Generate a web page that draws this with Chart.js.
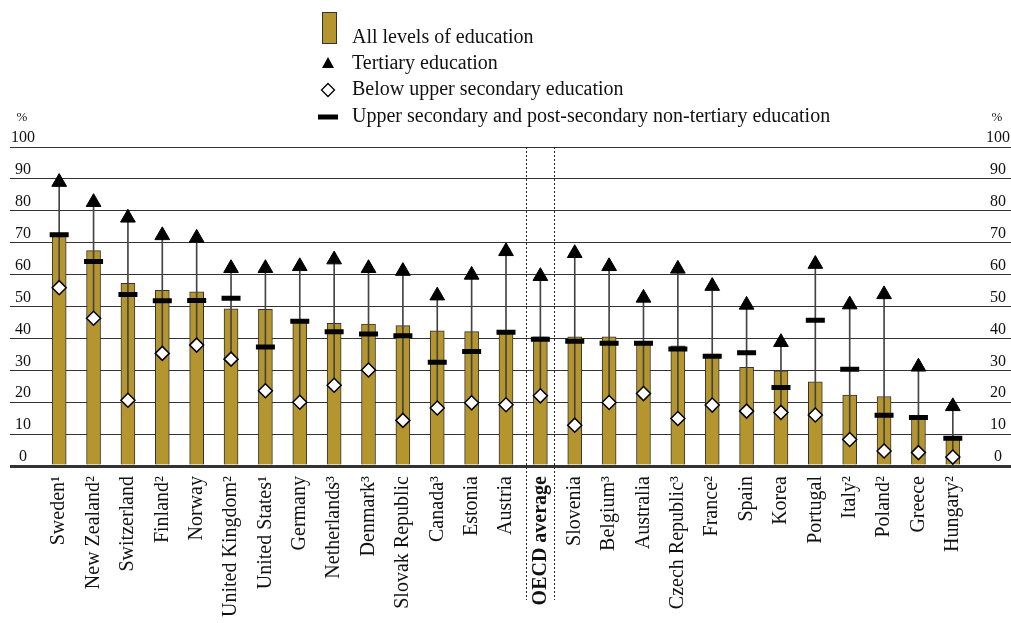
<!DOCTYPE html>
<html>
<head>
<meta charset="utf-8">
<script src="https://cdn.jsdelivr.net/npm/chart.js@4.4.1/dist/chart.umd.min.js"></script>
<style>
  html, body { margin: 0; padding: 0; background: #fff; }
  #wrap { width: 1011px; height: 623px; }
</style>
</head>
<body>
<div id="wrap"><canvas id="chart" width="1011" height="623"></canvas></div>
<script>
const countries = ['Sweden¹', 'New Zealand²', 'Switzerland', 'Finland²', 'Norway', 'United Kingdom²',
  'United States¹', 'Germany', 'Netherlands³', 'Denmark³', 'Slovak Republic', 'Canada³', 'Estonia',
  'Austria', 'OECD average', 'Slovenia', 'Belgium³', 'Australia', 'Czech Republic³', 'France²',
  'Spain', 'Korea', 'Portugal', 'Italy²', 'Poland²', 'Greece', 'Hungary²'];

const allLevels = [73.0, 67.5, 57.3, 55.1, 54.6, 49.3, 49.1, 45.4, 44.7, 44.5, 44.0, 42.4, 42.1,
  41.9, 40.5, 40.5, 40.5, 38.4, 37.7, 35.1, 30.9, 29.8, 26.4, 22.2, 21.8, 15.2, 9.1];
const tertiary = [89.0, 82.7, 77.8, 72.3, 71.5, 62.0, 62.0, 62.6, 64.7, 62.0, 61.1, 53.4, 59.9,
  67.3, 59.5, 66.7, 62.6, 52.7, 61.8, 56.4, 50.5, 38.8, 63.3, 50.6, 53.8, 31.1, 18.7];
const belowUpperSec = [55.9, 46.3, 20.6, 35.3, 37.9, 33.5, 23.6, 20.0, 25.3, 30.1, 14.3, 18.2, 19.8,
  19.2, 22.0, 12.8, 19.9, 22.7, 14.9, 19.1, 17.2, 16.8, 16.0, 8.3, 4.7, 4.2, 2.8];
const upperSec = [72.5, 64.1, 53.8, 51.8, 51.9, 52.6, 37.3, 45.4, 42.1, 41.4, 40.8, 32.5, 35.9,
  41.9, 39.7, 39.1, 38.5, 38.5, 36.7, 34.4, 35.5, 24.6, 45.7, 30.3, 15.9, 15.2, 8.7];

const yMin = 0, yMax = 100, yStep = 10;
const oecdIndex = countries.indexOf('OECD average');

const legendLabels = ['All levels of education', 'Tertiary education',
  'Below upper secondary education', 'Upper secondary and post-secondary non-tertiary education'];

const SERIF = '"Liberation Serif", "DejaVu Serif", serif';
const barColor = '#b5962e';
const ink = '#111';

// line from the lowest to the highest marker
const ranges = belowUpperSec.map((v, i) => [v, tertiary[i]]);

const decor = {
  id: 'decor',
  afterDraw(chart) {
    const ctx = chart.ctx;
    const xs = chart.scales.x;
    const area = chart.chartArea;
    const cx = xs.getPixelForValue(oecdIndex);

    ctx.save();
    // dotted frame round the OECD average
    ctx.strokeStyle = '#222';
    ctx.lineWidth = 1;
    ctx.setLineDash([2, 2]);
    [cx - 14, cx + 14].forEach(x => {
      ctx.beginPath();
      ctx.moveTo(Math.round(x) + 0.5, area.top);
      ctx.lineTo(Math.round(x) + 0.5, 600);
      ctx.stroke();
    });
    ctx.setLineDash([]);

    // % units
    ctx.fillStyle = ink;
    ctx.font = '13px ' + SERIF;
    ctx.textAlign = 'center';
    ctx.textBaseline = 'middle';
    ctx.fillText('%', 22, 118);
    ctx.fillText('%', 997, 118);

    // legend
    const lx = 328;
    const rows = [38, 64, 90, 117];
    ctx.fillStyle = barColor;
    ctx.strokeStyle = '#333';
    ctx.lineWidth = 1;
    ctx.fillRect(322, 12, 14, 31);
    ctx.strokeRect(322.5, 12.5, 14, 31);

    ctx.fillStyle = '#000';
    ctx.beginPath();
    ctx.moveTo(lx, rows[1] - 7);
    ctx.lineTo(lx + 6, rows[1] + 4);
    ctx.lineTo(lx - 6, rows[1] + 4);
    ctx.closePath();
    ctx.fill();

    ctx.fillStyle = '#fff';
    ctx.strokeStyle = '#000';
    ctx.lineWidth = 1.3;
    ctx.beginPath();
    ctx.moveTo(lx, rows[2] - 6.5);
    ctx.lineTo(lx + 6.5, rows[2]);
    ctx.lineTo(lx, rows[2] + 6.5);
    ctx.lineTo(lx - 6.5, rows[2]);
    ctx.closePath();
    ctx.fill();
    ctx.stroke();

    ctx.lineWidth = 5;
    ctx.beginPath();
    ctx.moveTo(318, rows[3]);
    ctx.lineTo(338, rows[3]);
    ctx.stroke();

    ctx.fillStyle = ink;
    ctx.font = '20px ' + SERIF;
    ctx.textAlign = 'left';
    legendLabels.forEach((t, i) => ctx.fillText(t, 352, rows[i]));
    ctx.restore();
  }
};

const zeroWide = c => (c.tick && c.tick.value === 0 ? 3 : 1);

new Chart(document.getElementById('chart'), {
  type: 'bar',
  data: {
    labels: countries,
    datasets: [
      {
        type: 'line', label: legendLabels[1], data: tertiary, showLine: false,
        pointStyle: 'triangle', pointRadius: 8.5, pointBackgroundColor: '#000',
        pointBorderColor: '#000', pointBorderWidth: 1, order: 1
      },
      {
        type: 'line', label: legendLabels[2], data: belowUpperSec, showLine: false,
        pointStyle: 'rectRot', pointRadius: 7, pointBackgroundColor: '#fff',
        pointBorderColor: '#000', pointBorderWidth: 1.5, order: 2
      },
      {
        type: 'line', label: legendLabels[3], data: upperSec, showLine: false,
        pointStyle: 'line', pointRadius: 9.5, pointBorderColor: '#000',
        pointBorderWidth: 5, order: 3
      },
      {
        label: 'range', data: ranges, backgroundColor: '#444', borderWidth: 0,
        barThickness: 1, grouped: false, order: 4
      },
      {
        label: legendLabels[0], data: allLevels, backgroundColor: barColor,
        borderColor: '#333', borderWidth: 1, barThickness: 14, grouped: false, order: 5
      }
    ]
  },
  options: {
    responsive: false,
    animation: false,
    events: [],
    layout: { padding: { top: 147, left: 0, right: 0, bottom: 0 } },
    plugins: {
      legend: { display: false },
      tooltip: { enabled: false }
    },
    scales: {
      x: {
        grid: { display: false, drawTicks: false },
        border: { display: false },
        ticks: {
          autoSkip: false, minRotation: 90, maxRotation: 90, padding: 10, color: ink,
          font: c => ({ family: SERIF, size: 20, weight: c.index === oecdIndex ? 'bold' : 'normal' })
        },
        afterFit: s => { s.height = 157; }
      },
      y: {
        position: 'left', min: yMin, max: yMax,
        ticks: {
          stepSize: yStep, padding: -25, crossAlign: 'center', labelOffset: -9,
          color: ink, font: { family: SERIF, size: 16 }
        },
        grid: { color: '#333', lineWidth: zeroWide, drawTicks: true, tickLength: 32, tickColor: '#333' },
        border: { display: false },
        afterFit: s => { s.width = 42; }
      },
      y2: {
        position: 'right', min: yMin, max: yMax,
        ticks: {
          stepSize: yStep, padding: -25, crossAlign: 'center', labelOffset: -9,
          color: ink, font: { family: SERIF, size: 16 }
        },
        grid: { drawOnChartArea: false, color: '#333', lineWidth: zeroWide, drawTicks: true, tickLength: 41, tickColor: '#333' },
        border: { display: false },
        afterFit: s => { s.width = 41; }
      }
    }
  },
  plugins: [decor]
});
</script>
</body>
</html>
